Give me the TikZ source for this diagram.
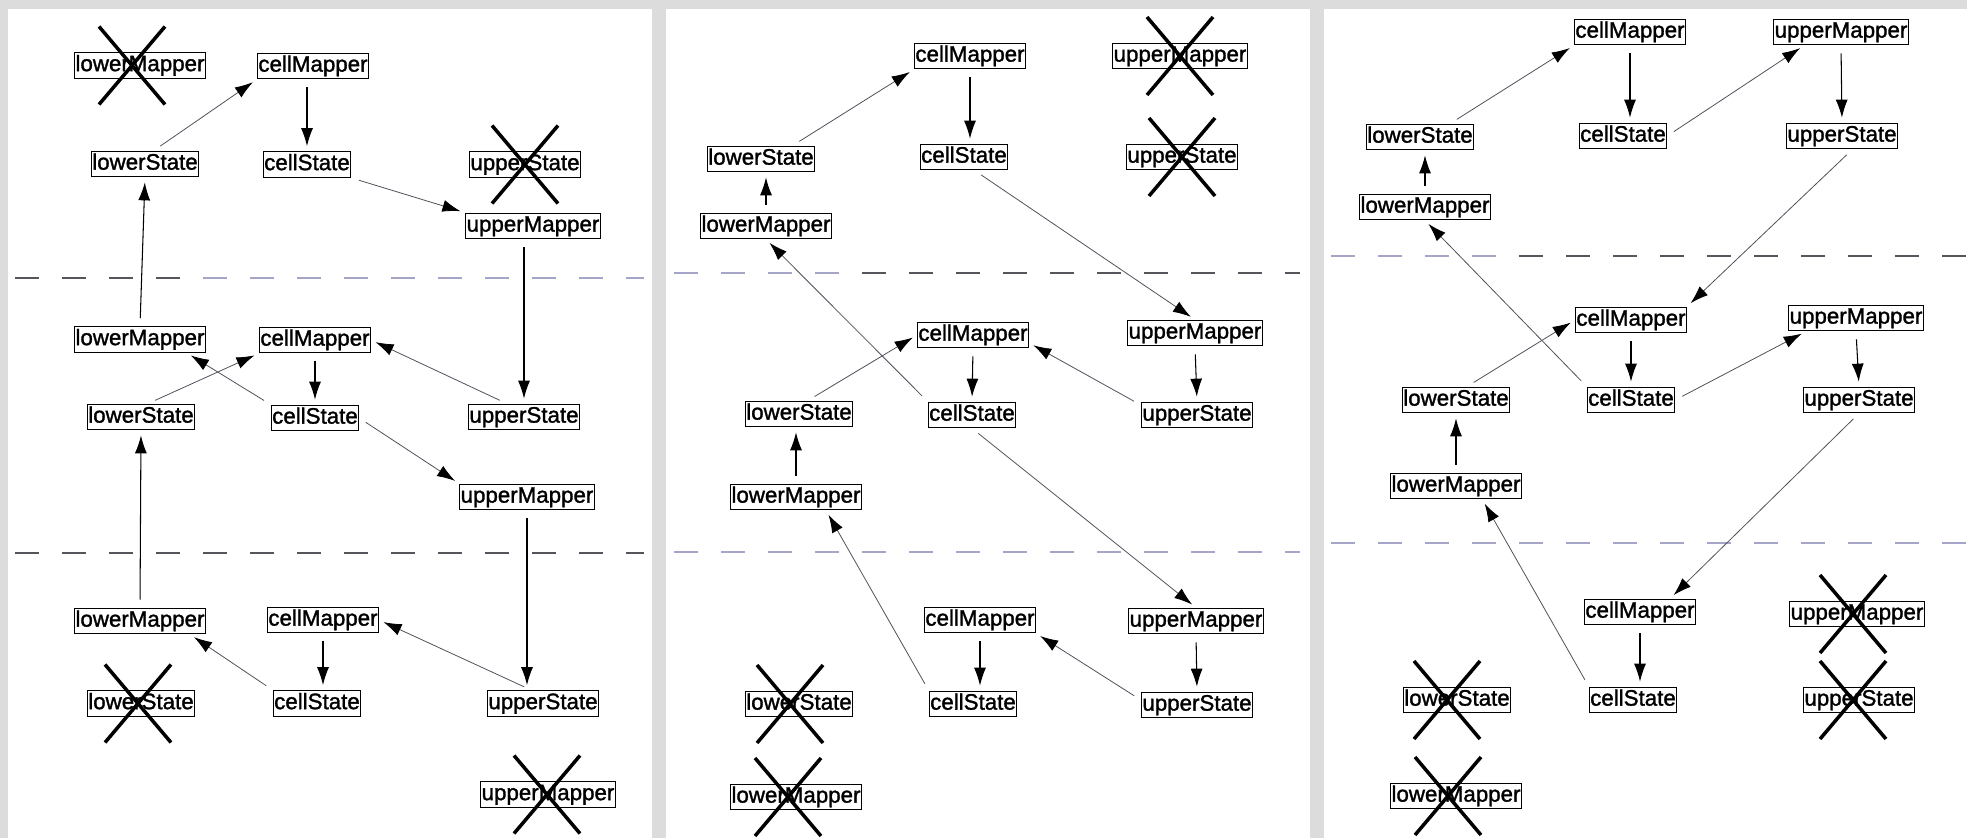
\documentclass[tikz,border=0pt]{standalone}
\usepackage{fontspec}
\newfontfamily\boxfont{Liberation Sans}[FakeBold=1.4]
\usetikzlibrary{arrows.meta}
\definecolor{pagegray}{RGB}{220,220,220}
\definecolor{sepdark}{RGB}{85,85,92}
\definecolor{seplight}{RGB}{165,165,200}
\definecolor{linkgray}{RGB}{80,80,92}
\tikzset{
    every node/.style={rectangle, draw, fill=white, line width=0.6pt, inner xsep=0.5pt, inner ysep=1.4pt,
        text height=9.1pt, text depth=2.7pt, font=\boxfont\fontsize{12.7}{14}\selectfont}
}
\tikzset{
    flow/.style={-{Latex[length=0.36cm,width=0.24cm]}, line width=0.6pt, shorten <=0.16cm, shorten >=0.1cm},
    link/.style={flow, linkgray, line width=0.45pt, -{Latex[length=0.36cm,width=0.24cm,color=black]}},
    strike/.style={line width=2pt},
    divider/.style={line width=1.1pt, dash pattern=on 0.48cm off 0.46cm}
}
\newcommand{\strikenode}[2][0]{%
    \draw[strike] ([shift={(#1-0.66,0.78)}]#2.center) -- ([shift={(#1+0.66,-0.78)}]#2.center);
    \draw[strike] ([shift={(#1+0.66,0.78)}]#2.center) -- ([shift={(#1-0.66,-0.78)}]#2.center);
}

\begin{document}
\begin{tikzpicture}
    \useasboundingbox (0,0) rectangle (39.34,-16.76);
    \fill[pagegray] (0,0) rectangle (39.34,-16.76);
    \fill[white] (0.16,-0.18) rectangle (13.04,-16.76);
    \fill[white] (13.32,-0.18) rectangle (26.20,-16.76);
    \fill[white] (26.48,-0.18) rectangle (39.34,-16.76);

    % first time step
    \draw[divider, sepdark] (0.30,-5.56) -- (3.80,-5.56);
    \draw[divider, seplight] (4.06,-5.56) -- (12.88,-5.56);
    \draw[divider, sepdark] (0.30,-11.06) -- (12.88,-11.06);

    \node (lmx1) at (2.80cm, -1.31cm) {lowerMapper};
    \node (cm1) at (6.26cm, -1.32cm) {cellMapper};
    \node (ls1) at (2.90cm, -3.28cm) {lowerState};
    \node (cs1) at (6.14cm, -3.29cm) {cellState};
    \node (usx1) at (10.50cm, -3.29cm) {upperState};
    \node (um1) at (10.66cm, -4.52cm) {upperMapper};
    \node (lm2) at (2.80cm, -6.79cm) {lowerMapper};
    \node (cm2) at (6.30cm, -6.80cm) {cellMapper};
    \node (ls2) at (2.82cm, -8.34cm) {lowerState};
    \node (cs2) at (6.30cm, -8.36cm) {cellState};
    \node (us2) at (10.48cm, -8.34cm) {upperState};
    \node (um2) at (10.54cm, -9.94cm) {upperMapper};
    \node (lm3) at (2.80cm, -12.42cm) {lowerMapper};
    \node (cm3) at (6.46cm, -12.40cm) {cellMapper};
    \node (lsx3) at (2.82cm, -14.07cm) {lowerState};
    \node (cs3) at (6.34cm, -14.07cm) {cellState};
    \node (us3) at (10.86cm, -14.07cm) {upperState};
    \node (umx3) at (10.96cm, -15.89cm) {upperMapper};

    \draw[link] (ls1.57) -- (cm1.south west);
    \draw[flow] (cm1.south -| cs1.north) -- (cs1.north);
    \draw[link] (cs1.south east) -- (um1.north west);
    \draw[flow] (um1.south -| us2.north) -- (us2.north);
    \draw[flow] (lm2.north) -- (ls1.south);

    \draw[link] (ls2.63) -- (cm2.south west);
    \draw[link] (cs2.north west) -- (lm2.-16);
    \draw[flow] (cm2.south) -- (cs2.north);
    \draw[link] (us2.142) -- (cm2.east);
    \draw[link] (cs2.east) -- (um2.north west);
    \draw[flow] (lm3.north) -- (ls2.south);
    \draw[flow] (um2.south) -- (um2.south |- us3.north);

    \draw[link] (cs3.north west) -- (lm3.-15);
    \draw[flow] (cm3.south) -- (cm3.south |- cs3.north);
    \draw[link] (us3.131) -- (cm3.east);

    \strikenode[-0.16]{lmx1}
    \strikenode{usx1}
    \strikenode[-0.06]{lsx3}
    \strikenode[-0.02]{umx3}

    % second time step
    \draw[divider, seplight] (13.48,-5.46) -- (17.00,-5.46);
    \draw[divider, sepdark] (17.24,-5.46) -- (26.00,-5.46);
    \draw[divider, seplight] (13.48,-11.04) -- (26.00,-11.04);

    \node (cm1b) at (19.40cm, -1.12cm) {cellMapper};
    \node (umx1b) at (23.60cm, -1.12cm) {upperMapper};
    \node (ls1b) at (15.22cm, -3.18cm) {lowerState};
    \node (cs1b) at (19.28cm, -3.14cm) {cellState};
    \node (usx1b) at (23.64cm, -3.14cm) {upperState};
    \node (lm1b) at (15.32cm, -4.52cm) {lowerMapper};
    \node (cm2b) at (19.46cm, -6.70cm) {cellMapper};
    \node (um2b) at (23.90cm, -6.66cm) {upperMapper};
    \node (ls2b) at (15.98cm, -8.28cm) {lowerState};
    \node (cs2b) at (19.44cm, -8.30cm) {cellState};
    \node (us2b) at (23.94cm, -8.30cm) {upperState};
    \node (lm2b) at (15.92cm, -9.94cm) {lowerMapper};
    \node (cm3b) at (19.60cm, -12.40cm) {cellMapper};
    \node (um3b) at (23.92cm, -12.42cm) {upperMapper};
    \node (lsx3b) at (15.98cm, -14.08cm) {lowerState};
    \node (cs3b) at (19.46cm, -14.08cm) {cellState};
    \node (us3b) at (23.94cm, -14.10cm) {upperState};
    \node (lmx3b) at (15.92cm, -15.94cm) {lowerMapper};

    \draw[link] (ls1b.23) -- (cm1b.south west);
    \draw[flow] (cm1b.south) -- (cm1b.south |- cs1b.north);
    \draw[flow] (lm1b.north) -- (lm1b.north |- ls1b.south);
    \draw[link] (cs1b.-52) -- (um2b.north);

    \draw[link] (cs2b.north west) -- (lm1b.south);
    \draw[link] (ls2b.57) -- (cm2b.west);
    \draw[flow] (cm2b.south) -- (cs2b.north);
    \draw[flow] (um2b.south) -- (us2b.north);
    \draw[link] (us2b.170) -- (cm2b.-8);
    \draw[flow] (lm2b.north) -- (lm2b.north |- ls2b.south);
    \draw[link] (cs2b.south) -- (um3b.north);

    \draw[link] (cs3b.north west) -- (lm2b.-24);
    \draw[flow] (cm3b.south) -- (cm3b.south |- cs3b.north);
    \draw[flow] (um3b.south) -- (us3b.north);
    \draw[link] (us3b.175) -- (cm3b.south east);

    \strikenode{umx1b}
    \strikenode{usx1b}
    \strikenode[-0.18]{lsx3b}
    \strikenode[-0.16]{lmx3b}

    % third time step
    \draw[divider, seplight] (26.62,-5.12) -- (30.14,-5.12);
    \draw[divider, sepdark] (30.38,-5.12) -- (39.34,-5.12);
    \draw[divider, seplight] (26.62,-10.86) -- (39.34,-10.86);

    \node (cm1c) at (32.60cm, -0.64cm) {cellMapper};
    \node (um1c) at (36.82cm, -0.64cm) {upperMapper};
    \node (ls1c) at (28.40cm, -2.74cm) {lowerState};
    \node (cs1c) at (32.46cm, -2.72cm) {cellState};
    \node (us1c) at (36.84cm, -2.72cm) {upperState};
    \node (lm1c) at (28.50cm, -4.14cm) {lowerMapper};
    \node (cm2c) at (32.62cm, -6.40cm) {cellMapper};
    \node (um2c) at (37.12cm, -6.36cm) {upperMapper};
    \node (ls2c) at (29.12cm, -8.00cm) {lowerState};
    \node (cs2c) at (32.62cm, -8.00cm) {cellState};
    \node (us2c) at (37.18cm, -8.00cm) {upperState};
    \node (lm2c) at (29.12cm, -9.72cm) {lowerMapper};
    \node (cm3c) at (32.80cm, -12.24cm) {cellMapper};
    \node (umx3c) at (37.14cm, -12.28cm) {upperMapper};
    \node (lsx3c) at (29.14cm, -14.00cm) {lowerState};
    \node (cs3c) at (32.66cm, -14.00cm) {cellState};
    \node (usx3c) at (37.18cm, -14.00cm) {upperState};
    \node (lmx3c) at (29.12cm, -15.92cm) {lowerMapper};

    \draw[link] (ls1c.24) -- (cm1c.south west);
    \draw[flow] (cm1c.south) -- (cm1c.south |- cs1c.north);
    \draw[link] (cs1c.east) -- (um1c.-160);
    \draw[flow] (um1c.south) -- (us1c.north);
    \draw[flow] (lm1c.north) -- (lm1c.north |- ls1c.south);
    \draw[link] (us1c.-52) -- (cm2c.north east);

    \draw[link] (cs2c.north west) -- (lm1c.south);
    \draw[link] (ls2c.51) -- (cm2c.west);
    \draw[flow] (cm2c.south) -- (cs2c.north);
    \draw[link] (cs2c.east) -- (um2c.-165);
    \draw[flow] (um2c.south) -- (us2c.north);
    \draw[flow] (lm2c.north) -- (ls2c.south);
    \draw[link] (us2c.south) -- (cm3c.24);

    \draw[link] (cs3c.north west) -- (lm2c.-27);
    \draw[flow] (cm3c.south) -- (cm3c.south |- cs3c.north);

    \strikenode[-0.08]{umx3c}
    \strikenode[-0.20]{lsx3c}
    \strikenode[-0.12]{usx3c}
    \strikenode[-0.16]{lmx3c}
\end{tikzpicture}
\end{document}
